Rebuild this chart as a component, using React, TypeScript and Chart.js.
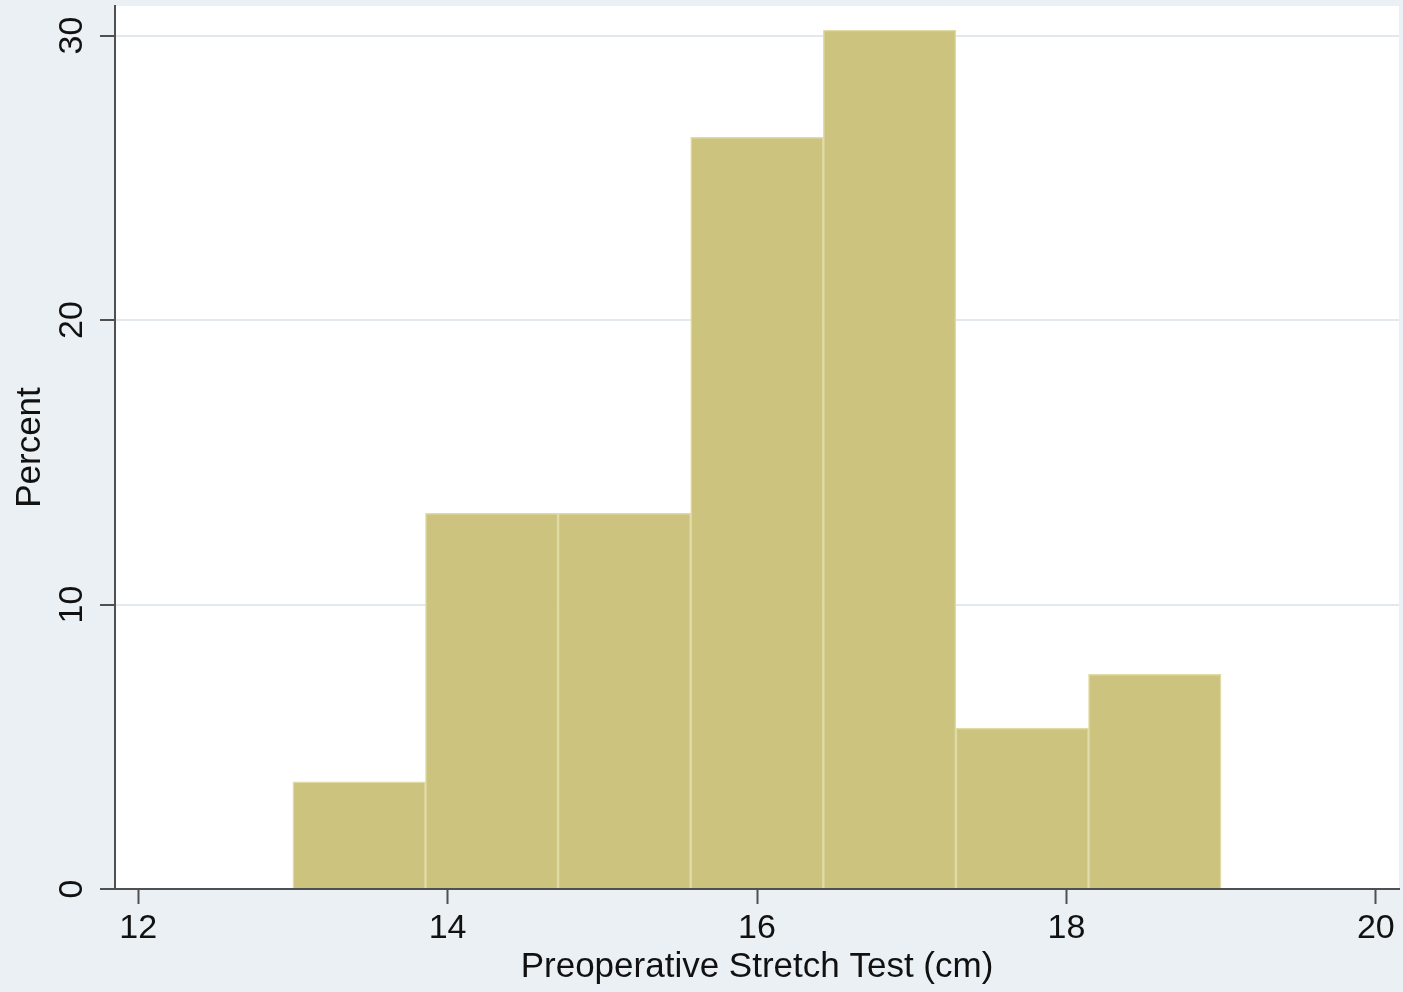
import React, { useEffect, useRef } from "react";
import { Chart, registerables } from "chart.js";

Chart.register(...registerables);

// Histogram bin edges (cm) and percent per bin
const binEdges = [13, 13.857, 14.714, 15.571, 16.429, 17.286, 18.143, 19];
const percents = [3.77, 13.21, 13.21, 26.42, 30.19, 5.66, 7.55];
const xTitle = "Preoperative Stretch Test (cm)";
const yTitle = "Percent";

const BG = "#eaf0f3";
const AXIS = "#505050";
const FONT = "Liberation Sans, Arial, Helvetica, sans-serif";

export default function App() {
  const ref = useRef<HTMLCanvasElement | null>(null);

  useEffect(() => {
    document.body.style.margin = "0";
    const canvas = ref.current!;
    const centers = percents.map((_, i) => (binEdges[i] + binEdges[i + 1]) / 2);

    const bgPlugin = {
      id: "bgPlugin",
      beforeDraw(chart: any) {
        const { ctx, chartArea } = chart;
        ctx.save();
        ctx.fillStyle = BG;
        ctx.fillRect(0, 0, chart.width, chart.height);
        ctx.fillStyle = "#ffffff";
        ctx.fillRect(chartArea.left, chartArea.top, chartArea.right - chartArea.left, chartArea.bottom - chartArea.top);
        ctx.restore();
      },
      afterDraw(chart: any) {
        const { ctx } = chart;
        const ys = chart.scales.y;
        ctx.save();
        ctx.font = `34px ${FONT}`;
        ctx.fillStyle = "#111111";
        ctx.textAlign = "center";
        ctx.textBaseline = "alphabetic";
        ys.ticks.forEach((t: any) => {
          const py = ys.getPixelForValue(t.value);
          ctx.save();
          ctx.translate(ys.right - 33.5, py);
          ctx.rotate(-Math.PI / 2);
          ctx.fillText(String(t.value), 0, 0);
          ctx.restore();
        });
        ctx.restore();
      },
    };

    const chart = new Chart(canvas, {
      type: "bar",
      data: {
        datasets: [
          {
            data: centers.map((c, i) => ({ x: c, y: percents[i] })),
            backgroundColor: "rgb(204,195,126)",
            borderColor: "rgb(224,218,165)",
            borderWidth: 1.5,
            barPercentage: 1,
            categoryPercentage: 1,
          },
        ],
      },
      options: {
        responsive: false,
        animation: false,
        devicePixelRatio: 1,
        layout: { padding: { left: 0, top: 6, right: 4, bottom: 0 } },
        plugins: { legend: { display: false }, tooltip: { enabled: false } },
        scales: {
          x: {
            type: "linear",
            offset: false,
            min: 11.85,
            max: 20.15,
            afterFit: (s: any) => {
              s.height = 103;
            },
            ticks: {
              stepSize: 2,
              includeBounds: false,
              color: "#111111",
              font: { family: FONT, size: 34 },
              padding: 4,
              maxRotation: 0,
            },
            grid: {
              display: true,
              offset: false,
              drawOnChartArea: false,
              drawTicks: true,
              tickLength: 15,
              tickColor: AXIS,
              tickWidth: 2,
              color: "transparent",
            },
            border: { display: true, color: AXIS, width: 2 },
            title: {
              display: true,
              text: xTitle,
              color: "#111111",
              font: { family: FONT, size: 35 },
              padding: { top: 0, bottom: 4 },
            },
          },
          y: {
            type: "linear",
            min: 0,
            max: 31.04,
            afterFit: (s: any) => {
              s.width = 115;
            },
            ticks: {
              stepSize: 10,
              includeBounds: false,
              display: false,
            },
            grid: {
              display: true,
              drawTicks: true,
              tickLength: 15,
              tickColor: AXIS,
              tickWidth: 2,
              lineWidth: 2,
              color: (c: any) => (c.tick && c.tick.value === 0 ? "transparent" : "#e3e8ec"),
            },
            border: { display: true, color: AXIS, width: 2 },
            title: {
              display: true,
              text: yTitle,
              color: "#111111",
              font: { family: FONT, size: 35 },
              padding: { top: 9, bottom: 0 },
            },
          },
        },
      },
      plugins: [bgPlugin],
    });

    return () => chart.destroy();
  }, []);

  return (
    <div style={{ width: 1403, height: 992 }}>
      <canvas ref={ref} width={1403} height={992} style={{ display: "block" }} />
    </div>
  );
}
